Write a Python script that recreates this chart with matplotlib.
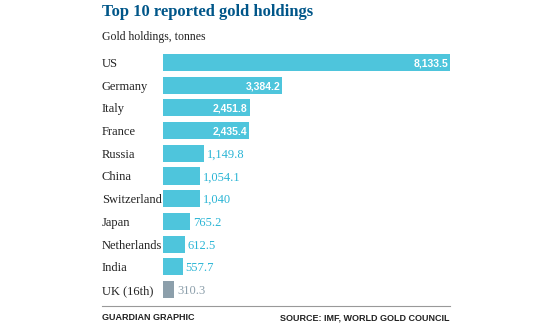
import matplotlib
matplotlib.use('Agg')
import matplotlib.pyplot as plt

countries = ['US', 'Germany', 'Italy', 'France', 'Russia', 'China',
             'Switzerland', 'Japan', 'Netherlands', 'India', 'UK (16th)']
tonnes = [8133.5, 3384.2, 2451.8, 2435.4, 1149.8, 1054.1,
          1040, 765.2, 612.5, 557.7, 310.3]
labels = ['8,133.5', '3,384.2', '2,451.8', '2,435.4', '1,149.8', '1,054.1',
          '1,040', '765.2', '612.5', '557.7', '310.3']

W, H = 550, 325
CYAN = '#4ec5dc'
GREY = '#8c9fab'
NAVY = '#005689'

fig = plt.figure(figsize=(W / 100, H / 100), dpi=100)
fig.patch.set_facecolor('white')

# axes in pixel terms: bars from x=163 to 450, rows from y=52 to 300
x0, x1, y0, y1 = 163, 450, 51, 301
ax = fig.add_axes([x0 / W, 1 - y1 / H, (x1 - x0) / W, (y1 - y0) / H])
ax.set_xlim(0, max(tonnes))
n = len(countries)
ax.set_ylim(n - 0.5, -0.5)
ax.axis('off')

serif = ['Liberation Serif', 'DejaVu Serif']
sans = ['Liberation Sans', 'DejaVu Sans']
colors = [CYAN] * (n - 1) + [GREY]
ax.barh(range(n), tonnes, height=0.75, color=colors)

px = max(tonnes) / (x1 - x0)  # data units per pixel
for i, (c, v, lab) in enumerate(zip(countries, tonnes, labels)):
    ax.text(-61 * px, i, c, ha='left', va='center_baseline',
            fontsize=9, family=serif, color='#222222')
    if v > 2000:
        ax.text(v - 2 * px, i, lab, ha='right', va='center_baseline', fontsize=7.5,
                fontweight='bold', family=sans, color='white')
    else:
        ax.text(v + 3 * px, i, lab, ha='left', va='center_baseline', fontsize=9,
                family=serif, color=GREY if i == n - 1 else '#2bb5d5')

fig.text(102 / W, 1 - 12 / H, 'Top 10 reported gold holdings', ha='left',
         va='center', fontsize=12, fontweight='bold', family=serif, color=NAVY)
fig.text(102 / W, 1 - 37 / H, 'Gold holdings, tonnes', ha='left', va='center',
         fontsize=8.5, family=serif, color='#222222')

fig.add_artist(plt.Line2D([102 / W, 450 / W], [1 - 306 / H, 1 - 306 / H],
                          color='#999999', lw=0.8))
fig.text(102 / W, 1 - 318 / H, 'GUARDIAN GRAPHIC', ha='left', va='center',
         fontsize=6.5, fontweight='bold', family=sans, color='#222222')
fig.text(450 / W, 1 - 318 / H, 'SOURCE: IMF, WORLD GOLD COUNCIL', ha='right',
         va='center', fontsize=6.5, fontweight='bold', family=sans, color='#222222')

fig.savefig('out.png', dpi=100)
